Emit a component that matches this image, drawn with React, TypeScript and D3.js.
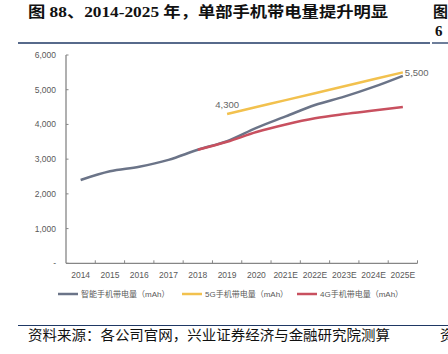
import React from "react";
import * as d3 from "d3";

const categories = ["2014","2015","2016","2017","2018","2019","2020","2021E","2022E","2023E","2024E","2025E"];
const smartValues = [2400, 2650, 2780, 2980, 3270, 3520, 3900, 4230, 4560, 4800, 5080, 5400];
const g5Categories = ["2019","2020","2021E","2022E","2023E","2024E","2025E"];
const g5Values = [4300, 4500, 4700, 4900, 5100, 5300, 5500];
const g4Categories = ["2018","2019","2020","2021E","2022E","2023E","2024E","2025E"];
const g4Values = [3270, 3500, 3780, 4000, 4180, 4300, 4400, 4500];
const yTicks = [0, 1000, 2000, 3000, 4000, 5000, 6000];
const legendLabels = ["智能手机带电量（mAh）", "5G手机带电量（mAh）", "4G手机带电量（mAh）"];
const titleText = "图 88、2014-2025 年，单部手机带电量提升明显";
const sourceText = "资料来源：各公司官网，兴业证券经济与金融研究院测算";

const colors = { smart: "#6b7488", g5: "#f2c14e", g4: "#c8505f" };

export default function App() {
  const W = 448, H = 354;
  const x = d3.scaleBand<string>().domain(categories).range([66, 417.5]);
  const y = d3.scaleLinear().domain([0, 6000]).range([263.3, 55]);
  const cx = (c: string) => (x(c) as number) + x.bandwidth() / 2;
  const line = d3.line<[string, number]>().x(d => cx(d[0])).y(d => y(d[1])).curve(d3.curveMonotoneX);
  const smart = categories.map((c, i) => [c, smartValues[i]] as [string, number]);
  const g5 = g5Categories.map((c, i) => [c, g5Values[i]] as [string, number]);
  const g4 = g4Categories.map((c, i) => [c, g4Values[i]] as [string, number]);
  const fmt = d3.format(",");
  const axisColor = "#868686";
  const textColor = "#595959";
  const legendItems = [
    { label: legendLabels[0], color: colors.smart, x: 58 },
    { label: legendLabels[1], color: colors.g5, x: 182 },
    { label: legendLabels[2], color: colors.g4, x: 297 },
  ];
  const font = "'Liberation Sans', 'Noto Sans CJK SC', sans-serif";
  return (
    <svg width={W} height={H} style={{ position: "absolute", left: 0, top: 0, background: "#fff" }}>
      <text x={28} y={17} fontSize={15} fontWeight="bold" fontFamily="'Liberation Serif', 'Noto Sans CJK SC', serif" fill="#111" textLength={360} lengthAdjust="spacingAndGlyphs">{titleText}</text>
      <text x={433} y={17} fontSize={15} fontWeight="bold" fontFamily="'Noto Sans CJK SC', serif" fill="#111">图</text>
      <text x={435} y={36} fontSize={15} fontWeight="bold" fontFamily="'Liberation Serif', serif" fill="#111">6</text>
      <line x1={18} x2={430} y1={43} y2={43} stroke="#1f3864" strokeWidth={1.3} />
      <line x1={432} x2={448} y1={43} y2={43} stroke="#1f3864" strokeWidth={1.3} />

      {/* y axis */}
      <line x1={66} x2={66} y1={y(6000)} y2={y(0)} stroke={axisColor} strokeWidth={1.3} />
      {yTicks.map(t => (
        <g key={t}>
          <line x1={66} x2={68.5} y1={y(t)} y2={y(t)} stroke={axisColor} strokeWidth={1} />
          <text x={56} y={y(t) + 3} fontSize={8.5} fill={textColor} textAnchor="end" fontFamily={font}>{t === 0 ? "-" : fmt(t)}</text>
        </g>
      ))}
      {/* x axis */}
      <line x1={66} x2={417.5} y1={y(0)} y2={y(0)} stroke={axisColor} strokeWidth={1.3} />
      {categories.map((c, i) => (
        <g key={c}>
          <line x1={(x(c) as number) + x.bandwidth()} x2={(x(c) as number) + x.bandwidth()} y1={y(0)} y2={y(0) - 3} stroke={axisColor} strokeWidth={1} />
          <text x={cx(c)} y={278} fontSize={8.5} fill={textColor} textAnchor="middle" fontFamily={font}>{c}</text>
        </g>
      ))}

      <path d={line(smart) || ""} fill="none" stroke={colors.smart} strokeWidth={2.5} />
      <path d={line(g5) || ""} fill="none" stroke={colors.g5} strokeWidth={2.5} />
      <path d={line(g4) || ""} fill="none" stroke={colors.g4} strokeWidth={2.5} />

      <text x={cx("2019")} y={108} fontSize={9.5} fill="#666" textAnchor="middle" fontFamily={font}>{fmt(g5Values[0])}</text>
      <text x={cx("2025E") + 2} y={76} fontSize={9.5} fill="#666" textAnchor="start" fontFamily={font}>{fmt(g5Values[g5Values.length - 1])}</text>

      {legendItems.map(l => (
        <g key={l.label}>
          <line x1={l.x} x2={l.x + 20} y1={294} y2={294} stroke={l.color} strokeWidth={2.5} />
          <text x={l.x + 23} y={297} fontSize={8} fill={textColor} fontFamily={font}>{l.label}</text>
        </g>
      ))}

      <line x1={18} x2={448} y1={325.5} y2={325.5} stroke="#1f3864" strokeWidth={1} />
      <text x={28} y={340} fontSize={14} fill="#111" fontFamily="'Noto Sans CJK SC', serif" textLength={362} lengthAdjust="spacingAndGlyphs">{sourceText}</text>
      <text x={440} y={340} fontSize={14} fill="#111" fontFamily="'Noto Sans CJK SC', serif">资</text>
    </svg>
  );
}
